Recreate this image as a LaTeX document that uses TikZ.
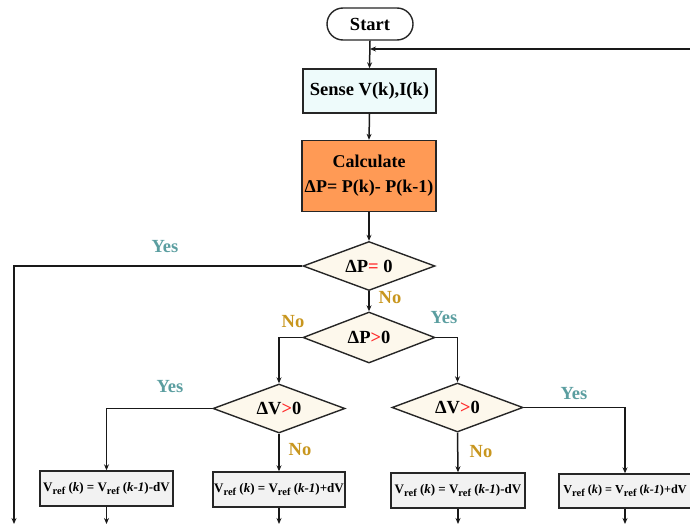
\documentclass[tikz,border=0pt]{standalone}
\usepackage{fontspec}
\setmainfont{Liberation Serif}
\usetikzlibrary{arrows.meta,shapes.geometric}
\definecolor{sensefill}{HTML}{EEFBFB}
\definecolor{calcfill}{HTML}{FF9A55}
\definecolor{decfill}{HTML}{FDF8EC}
\definecolor{vreffill}{HTML}{F2F2F2}
\definecolor{yescol}{HTML}{5B9EA0}
\definecolor{nocol}{HTML}{C8961E}
\definecolor{relcol}{HTML}{FF2A2A}
\newcommand{\vrefx}{V\raisebox{-0.45ex}{\fontsize{10.5}{11}\selectfont ref}}
\begin{document}
\begin{tikzpicture}[x=1pt,y=-1pt,
  every node/.style={font=\fontsize{18.5}{20}\selectfont\bfseries},
  box/.style={draw=black!85,line width=1.4pt,rectangle,inner sep=0pt},
  term/.style={draw=black!85,line width=1.4pt,rectangle,rounded corners=16pt,inner sep=0pt,fill=white,minimum width=86pt,minimum height=32pt},
  dec/.style={draw=black!85,line width=1.4pt,diamond,aspect=2.6,inner sep=0pt,fill=decfill},
  vref/.style={box,fill=vreffill,minimum width=133pt,minimum height=35pt,font=\fontsize{13}{14}\selectfont\bfseries},
  conn/.style={line width=1.5pt,draw=black!90},
  arr/.style={conn,-{Stealth[length=6pt,width=5pt]}},
  yeslbl/.style={text=yescol},
  nolbl/.style={text=nocol}]
\useasboundingbox (0,0) rectangle (690,524);
\clip (0,0) rectangle (690,524);

\node[term] (start) at (370,24) {Start};
\node[box,fill=sensefill,minimum width=133pt,minimum height=44pt] (sense) at (369.5,91) {Sense V(k),I(k)};
\node[box,fill=calcfill,minimum width=134pt,minimum height=71pt,align=center,font=\fontsize{18}{20}\selectfont\bfseries] (calc) at (369,176) {Calculate\\[5pt]ΔP= P(k)- P(k-1)};
\node[dec,minimum width=132pt,minimum height=49pt] (d1) at (369,266) {ΔP\textcolor{relcol}{=} 0};
\node[dec,minimum width=132pt,minimum height=51pt] (d2) at (369,337.5) {ΔP\textcolor{relcol}{>}0};
\node[dec,minimum width=132pt,minimum height=49pt] (d3) at (279,408.5) {ΔV\textcolor{relcol}{>}0};
\node[dec,minimum width=131pt,minimum height=49pt] (d4) at (457.5,407.5) {ΔV\textcolor{relcol}{>}0};

\node[vref] (b1) at (106.5,488.5) {\vrefx{} (\textit{k}) = \vrefx{} (\textit{k-1})-dV};
\node[vref,minimum width=132pt] (b2) at (279,489.5) {\vrefx{} (\textit{k}) = \vrefx{} (\textit{k-1})+dV};
\node[vref,minimum width=134pt] (b3) at (458,490.5) {\vrefx{} (\textit{k}) = \vrefx{} (\textit{k-1})-dV};
\node[vref,minimum width=132pt,minimum height=34pt,font=\fontsize{12.2}{13}\selectfont\bfseries,xshift=-2pt] (b4) at (627,491) {\vrefx{} (\textit{k}) = \vrefx{} (\textit{k-1})+dV};

% loop
\coordinate (loopR) at (692,49);
\coordinate (loopJ) at (start.south |- 0,49);
\coordinate (leftdown) at (14,266);
\coordinate (leftend) at (14,524);

\draw[arr] (start.south) -- (sense.north);
\draw[arr] (loopR) -- (loopJ);
\draw[arr] (sense.south) -- (calc.north);
\draw[arr] (calc.south) -- (d1.north);
\draw[arr] (d1.south) -- (d2.north);
\draw[arr] (d1.west) -- (leftdown) -- (leftend);
\draw[arr] (d2.west) -| (d3.north);
\draw[arr] (d2.east) -| (d4.north);
\draw[arr] (d3.west) -| (b1.north);
\draw[arr] (d3.south) -- (b2.north);
\draw[arr] (d4.east) -| (b4.north);
\draw[arr] (d4.south) -- (b3.north);

\coordinate (e1) at (b1.south |- 0,524);
\coordinate (e2) at (b2.south |- 0,524);
\coordinate (e3) at (b3.south |- 0,524);
\coordinate (e4) at (b4.south |- 0,524);
\draw[arr] (b1.south) -- (e1);
\draw[arr] (b2.south) -- (e2);
\draw[arr] (b3.south) -- (e3);
\draw[arr] (b4.south) -- (e4);

% labels
\node[yeslbl] (l1) at (165,247) {Yes};
\node[nolbl] (l2) at (390,298) {No};
\node[nolbl] (l3) at (293,322) {No};
\node[yeslbl] (l4) at (444,318) {Yes};
\node[yeslbl] (l5) at (170,387) {Yes};
\node[nolbl] (l6) at (300,450) {No};
\node[nolbl] (l7) at (481,452) {No};
\node[yeslbl] (l8) at (574,394) {Yes};
\end{tikzpicture}
\end{document}
